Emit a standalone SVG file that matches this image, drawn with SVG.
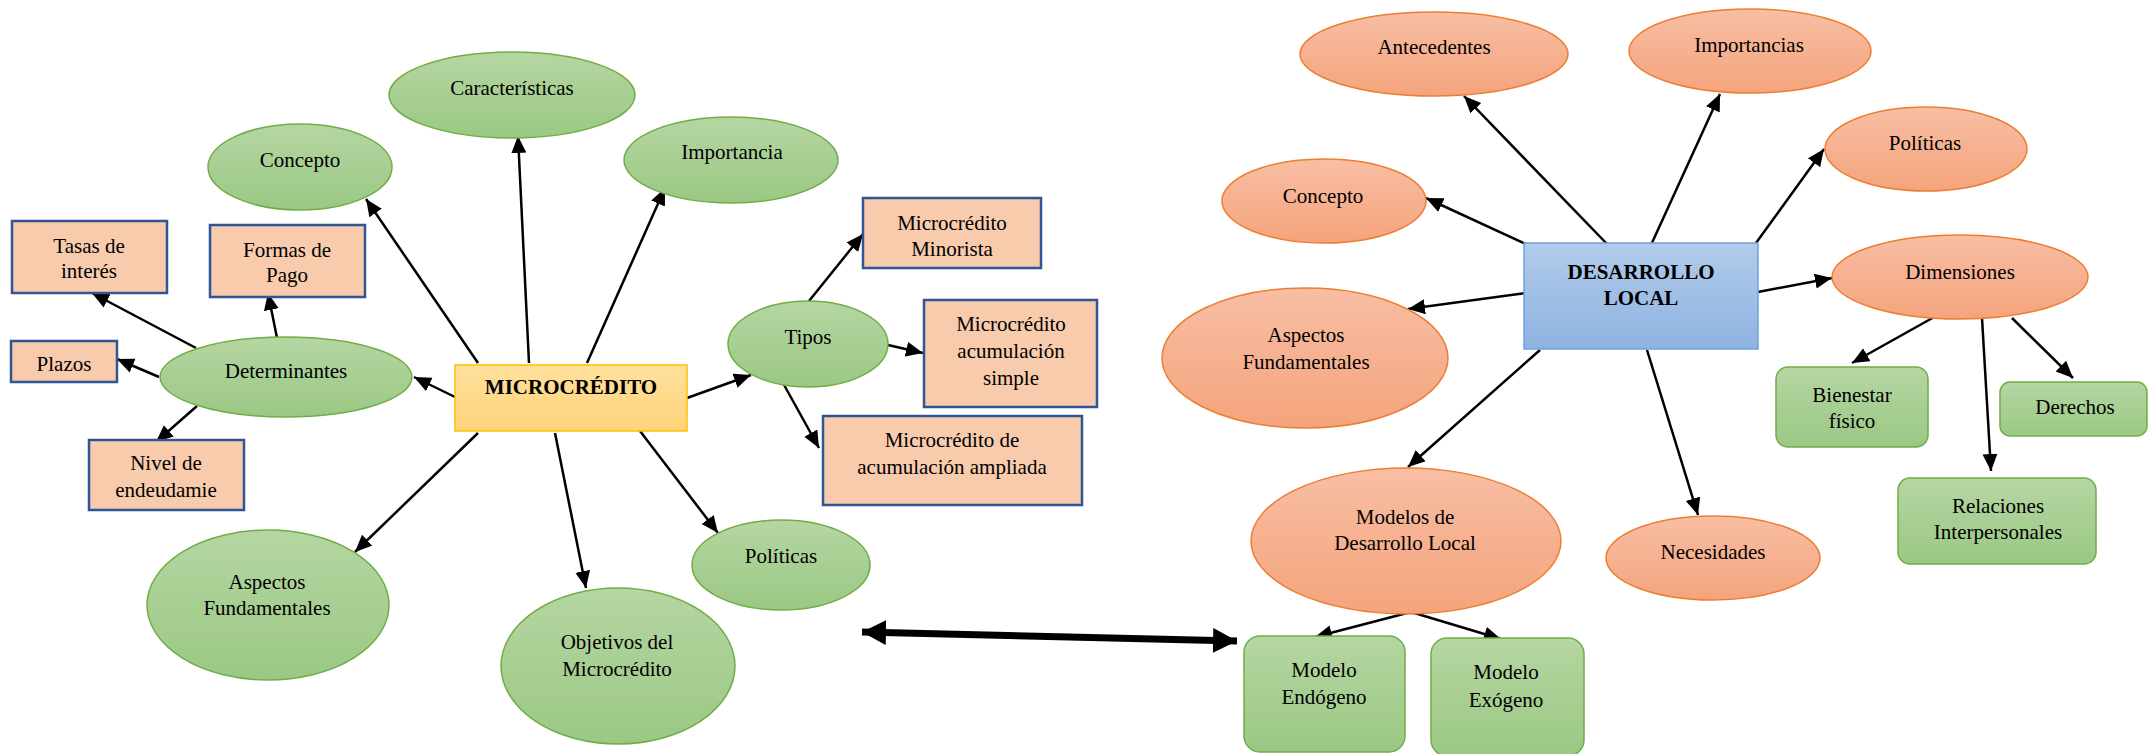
<svg xmlns="http://www.w3.org/2000/svg" width="2149" height="754" viewBox="0 0 2149 754">
<defs>
<linearGradient id="gG" x1="0" y1="0" x2="0" y2="1"><stop offset="0" stop-color="#b5d6a2"/><stop offset="1" stop-color="#9bc884"/></linearGradient>
<linearGradient id="gO" x1="0" y1="0" x2="0" y2="1"><stop offset="0" stop-color="#f8bea4"/><stop offset="1" stop-color="#f4a47c"/></linearGradient>
<linearGradient id="gB" x1="0" y1="0" x2="0" y2="1"><stop offset="0" stop-color="#b1cbea"/><stop offset="1" stop-color="#8eb3e1"/></linearGradient>
<linearGradient id="gY" x1="0" y1="0" x2="0" y2="1"><stop offset="0" stop-color="#ffe09c"/><stop offset="1" stop-color="#ffd47a"/></linearGradient>
<marker id="ah" markerUnits="userSpaceOnUse" markerWidth="18" markerHeight="16" refX="17" refY="7.5" orient="auto"><path d="M0,0 L17,7.5 L0,15 z" fill="#000"/></marker>
<marker id="ahB" markerUnits="userSpaceOnUse" markerWidth="26" markerHeight="26" refX="24" refY="12.5" orient="auto-start-reverse"><path d="M0,0 L24,12.5 L0,25 z" fill="#000"/></marker>
</defs>
<style>
.ge{fill:url(#gG);stroke:#70ad47;stroke-width:1.5}
.oe{fill:url(#gO);stroke:#ed7d31;stroke-width:1.5}
.pb{fill:#f8cbad;stroke:#2f5597;stroke-width:2.5}
.gr{fill:url(#gG);stroke:#70ad47;stroke-width:1.5}
text{font-family:"Liberation Serif","Times New Roman",serif;font-size:21px;fill:#000;text-anchor:middle}
.b{font-weight:bold}
.c line{stroke:#000;stroke-width:2.5;marker-end:url(#ah)}
</style>
<rect width="2149" height="754" fill="#fff"/>

<g class="c" id="connectors">
<line x1="478" y1="363" x2="366" y2="199"/>
<line x1="529" y1="363" x2="518" y2="136"/>
<line x1="587" y1="363" x2="665" y2="188"/>
<line x1="455" y1="397" x2="414" y2="377"/>
<line x1="196" y1="348" x2="92" y2="293"/>
<line x1="277" y1="338" x2="268" y2="293"/>
<line x1="159" y1="377" x2="117" y2="359"/>
<line x1="197" y1="406" x2="156" y2="442"/>
<line x1="478" y1="433" x2="355" y2="552"/>
<line x1="555" y1="433" x2="586" y2="588"/>
<line x1="640" y1="431" x2="718" y2="533"/>
<line x1="687" y1="398" x2="751" y2="375"/>
<line x1="809" y1="301" x2="863" y2="234"/>
<line x1="888" y1="345" x2="923" y2="353"/>
<line x1="783" y1="383" x2="819" y2="448"/>
<line x1="1528" y1="245" x2="1426" y2="198"/>
<line x1="1608" y1="245" x2="1464" y2="96"/>
<line x1="1651" y1="245" x2="1720" y2="94"/>
<line x1="1756" y1="243" x2="1824" y2="149"/>
<line x1="1758" y1="292" x2="1832" y2="278"/>
<line x1="1526" y1="293" x2="1408" y2="309"/>
<line x1="1540" y1="350" x2="1408" y2="467"/>
<line x1="1647" y1="350" x2="1698" y2="515"/>
<line x1="1936" y1="316" x2="1852" y2="363"/>
<line x1="1982" y1="318" x2="1991" y2="471"/>
<line x1="2012" y1="318" x2="2073" y2="378"/>
<line x1="1411" y1="612" x2="1315" y2="637"/>
<line x1="1411" y1="612" x2="1501" y2="639"/>
<line x1="862" y1="632" x2="1237" y2="641" style="stroke-width:7;marker-start:url(#ahB);marker-end:url(#ahB)"/>
</g>

<g id="microcredito"><rect x="455" y="365" width="232" height="66" fill="url(#gY)" stroke="#ffc000" stroke-width="1.5"/><text class="b" x="571" y="394">MICROCRÉDITO</text></g>
<g id="caracteristicas"><ellipse class="ge" cx="512" cy="95" rx="123" ry="43"/><text x="512" y="95">Características</text></g>
<g id="concepto-m"><ellipse class="ge" cx="300" cy="167" rx="92" ry="43"/><text x="300" y="167">Concepto</text></g>
<g id="importancia"><ellipse class="ge" cx="731" cy="160" rx="107" ry="43"/><text x="732" y="159">Importancia</text></g>
<g id="determinantes"><ellipse class="ge" cx="286" cy="377" rx="126" ry="40"/><text x="286" y="378">Determinantes</text></g>
<g id="tasas"><rect class="pb" x="12" y="221" width="155" height="72"/><text x="89" y="253">Tasas de</text><text x="89" y="278">interés</text></g>
<g id="formas"><rect class="pb" x="210" y="225" width="155" height="72"/><text x="287" y="257">Formas de</text><text x="287" y="282">Pago</text></g>
<g id="plazos"><rect class="pb" x="11" y="341" width="106" height="41"/><text x="64" y="371">Plazos</text></g>
<g id="nivel"><rect class="pb" x="89" y="440" width="155" height="70"/><text x="166" y="470">Nivel de</text><text x="166" y="497">endeudamie</text></g>
<g id="aspectos-m"><ellipse class="ge" cx="268" cy="605" rx="121" ry="75"/><text x="267" y="589">Aspectos</text><text x="267" y="615">Fundamentales</text></g>
<g id="objetivos"><ellipse class="ge" cx="618" cy="666" rx="117" ry="78"/><text x="617" y="649">Objetivos del</text><text x="617" y="676">Microcrédito</text></g>
<g id="politicas-m"><ellipse class="ge" cx="781" cy="565" rx="89" ry="45"/><text x="781" y="563">Políticas</text></g>
<g id="tipos"><ellipse class="ge" cx="808" cy="344" rx="80" ry="43"/><text x="808" y="344">Tipos</text></g>
<g id="minorista"><rect class="pb" x="863" y="198" width="178" height="70"/><text x="952" y="230">Microcrédito</text><text x="952" y="256">Minorista</text></g>
<g id="simple"><rect class="pb" x="924" y="300" width="173" height="107"/><text x="1011" y="331">Microcrédito</text><text x="1011" y="358">acumulación</text><text x="1011" y="385">simple</text></g>
<g id="ampliada"><rect class="pb" x="823" y="416" width="259" height="89"/><text x="952" y="447">Microcrédito de</text><text x="952" y="474">acumulación ampliada</text></g>

<g id="desarrollo"><rect x="1524" y="243" width="234" height="106" fill="url(#gB)" stroke="#6fa3dc" stroke-width="1.5"/><text class="b" x="1641" y="279">DESARROLLO</text><text class="b" x="1641" y="305">LOCAL</text></g>
<g id="antecedentes"><ellipse class="oe" cx="1434" cy="54" rx="134" ry="42"/><text x="1434" y="54">Antecedentes</text></g>
<g id="importancias"><ellipse class="oe" cx="1750" cy="51" rx="121" ry="42"/><text x="1749" y="52">Importancias</text></g>
<g id="politicas-d"><ellipse class="oe" cx="1926" cy="149" rx="101" ry="42"/><text x="1925" y="150">Políticas</text></g>
<g id="concepto-d"><ellipse class="oe" cx="1324" cy="201" rx="102" ry="42"/><text x="1323" y="203">Concepto</text></g>
<g id="dimensiones"><ellipse class="oe" cx="1960" cy="277" rx="128" ry="42"/><text x="1960" y="279">Dimensiones</text></g>
<g id="aspectos-d"><ellipse class="oe" cx="1305" cy="358" rx="143" ry="70"/><text x="1306" y="342">Aspectos</text><text x="1306" y="369">Fundamentales</text></g>
<g id="modelos"><ellipse class="oe" cx="1406" cy="541" rx="155" ry="73"/><text x="1405" y="524">Modelos de</text><text x="1405" y="550">Desarrollo Local</text></g>
<g id="necesidades"><ellipse class="oe" cx="1713" cy="558" rx="107" ry="42"/><text x="1713" y="559">Necesidades</text></g>
<g id="bienestar"><rect class="gr" x="1776" y="367" width="152" height="80" rx="12"/><text x="1852" y="402">Bienestar</text><text x="1852" y="428">físico</text></g>
<g id="derechos"><rect class="gr" x="2000" y="382" width="147" height="54" rx="10"/><text x="2075" y="414">Derechos</text></g>
<g id="relaciones"><rect class="gr" x="1898" y="478" width="198" height="86" rx="12"/><text x="1998" y="513">Relaciones</text><text x="1998" y="539">Interpersonales</text></g>
<g id="endogeno"><rect class="gr" x="1244" y="636" width="161" height="116" rx="16"/><text x="1324" y="677">Modelo</text><text x="1324" y="704">Endógeno</text></g>
<g id="exogeno"><rect class="gr" x="1431" y="638" width="153" height="118" rx="16"/><text x="1506" y="679">Modelo</text><text x="1506" y="707">Exógeno</text></g>
</svg>
